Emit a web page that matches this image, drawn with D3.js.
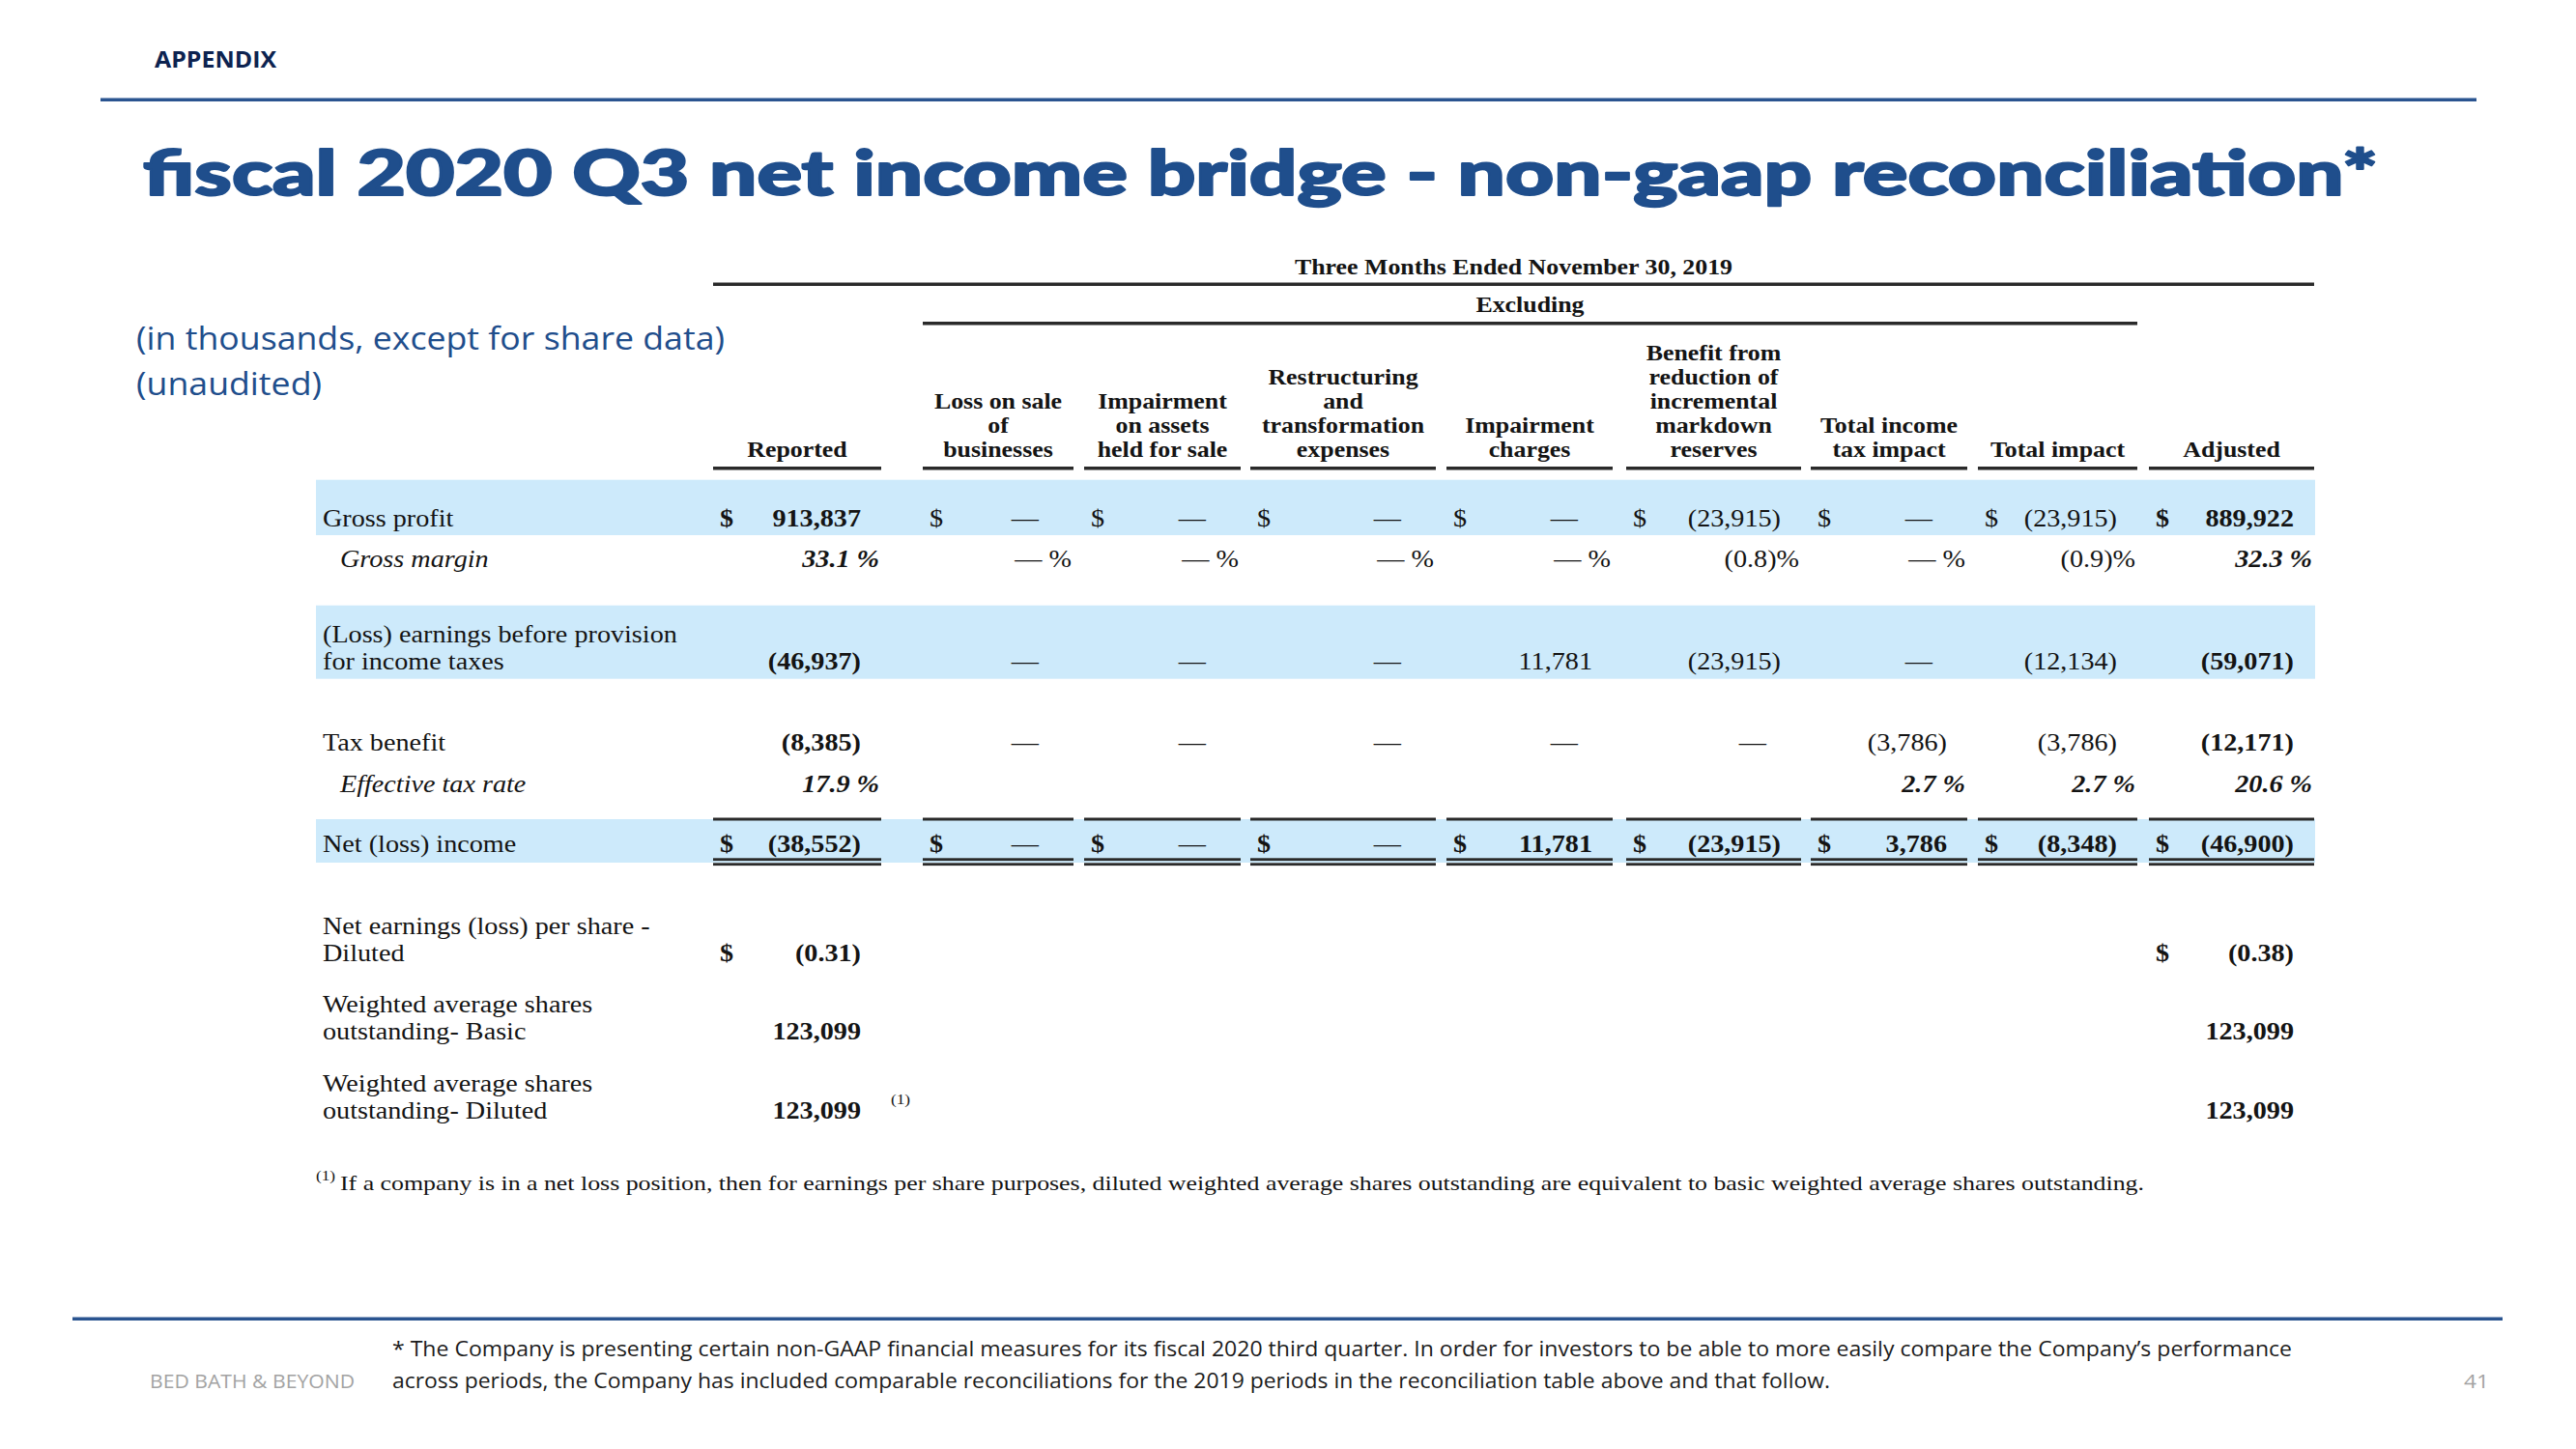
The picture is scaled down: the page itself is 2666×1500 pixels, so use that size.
<!DOCTYPE html>
<html><head><meta charset="utf-8">
<script src="https://cdn.jsdelivr.net/npm/d3@7"></script>
<style>html,body{margin:0;padding:0;background:#fff;}svg{display:block;}</style>
</head><body>
<script>
// ---------- DATA ----------
const columnKeys = ["reported","lossSale","impAssets","restructuring","impCharges","markdown","taxImpact","totalImpact","adjusted"];
const headerLines = [
  ["Reported"],
  ["Loss on sale","of","businesses"],
  ["Impairment","on assets","held for sale"],
  ["Restructuring","and","transformation","expenses"],
  ["Impairment","charges"],
  ["Benefit from","reduction of","incremental","markdown","reserves"],
  ["Total income","tax impact"],
  ["Total impact"],
  ["Adjusted"]
];
const periodTitle = "Three Months Ended November 30, 2019";
const excludingTitle = "Excluding";

const rowKeys = ["grossProfit","grossMargin","pretax","taxBenefit","effTaxRate","netIncome","eps","sharesBasic","sharesDiluted"];
const rowLabels = [
  ["Gross profit"],
  ["Gross margin"],
  ["(Loss) earnings before provision","for income taxes"],
  ["Tax benefit"],
  ["Effective tax rate"],
  ["Net (loss) income"],
  ["Net earnings (loss) per share -","Diluted"],
  ["Weighted average shares","outstanding- Basic"],
  ["Weighted average shares","outstanding- Diluted"]
];
const grossProfit   = ["913,837","—","—","—","—","(23,915)","—","(23,915)","889,922"];
const grossMargin   = ["33.1 %","— %","— %","— %","— %","(0.8)%","— %","(0.9)%","32.3 %"];
const pretaxIncome  = ["(46,937)","—","—","—","11,781","(23,915)","—","(12,134)","(59,071)"];
const taxBenefit    = ["(8,385)","—","—","—","—","—","(3,786)","(3,786)","(12,171)"];
const effTaxRate    = ["17.9 %","","","","","","2.7 %","2.7 %","20.6 %"];
const netIncome     = ["(38,552)","—","—","—","11,781","(23,915)","3,786","(8,348)","(46,900)"];
const epsDiluted    = ["(0.31)","","","","","","","","(0.38)"];
const sharesBasic   = ["123,099","","","","","","","","123,099"];
const sharesDiluted = ["123,099","","","","","","","","123,099"];
const rowValues = [grossProfit,grossMargin,pretaxIncome,taxBenefit,effTaxRate,netIncome,epsDiluted,sharesBasic,sharesDiluted];

const footnoteMark = "(1)";
const footnoteText = "If a company is in a net loss position, then for earnings per share purposes, diluted weighted average shares outstanding are equivalent to basic weighted average shares outstanding.";
const slideTitle = "fiscal 2020 Q3 net income bridge - non-gaap reconciliation*";
const sectionLabel = "APPENDIX";
const subtitleLines = ["(in thousands, except for share data)","(unaudited)"];
const noteLines = [
  "* The Company is presenting certain non-GAAP financial measures for its fiscal 2020 third quarter. In order for investors to be able to more easily compare the Company\u2019s performance",
  "across periods, the Company has included comparable reconciliations for the 2019 periods in the reconciliation table above and that follow."
];
const brand = "BED BATH & BEYOND";
const pageNumber = "41";

// ---------- LAYOUT ----------
const W = 2666, H = 1500;
const BLUE = "#1f4e8c", INK = "#141414", BAND = "#cdeafb", RULE = "#2a2a2a";
const SERIF = "'Liberation Serif','Times New Roman',serif";
const SX = 1.15;

const colLeft  = d3.scaleOrdinal().domain(columnKeys).range([738,955,1122,1294,1497,1683,1874,2047,2224]);
const colRight = d3.scaleOrdinal().domain(columnKeys).range([912,1111,1284,1486,1669,1864,2036,2212,2395]);
const rowBase  = d3.scaleOrdinal().domain(rowKeys).range([545,587,665,777,820,882,967,1048,1130]);
const LINE = 27.5;

const svg = d3.select("body").append("svg").attr("width",W).attr("height",H);

function txt(g, x, y, s, o = {}) {
  const t = g.append("text")
    .attr("transform", `translate(${x},${y}) scale(${o.sx ?? SX},1)`)
    .attr("text-anchor", o.anchor || "start")
    .style("font-family", o.family || SERIF)
    .style("font-size", (o.size || 24.5) + "px")
    .style("font-weight", o.weight || "normal")
    .style("font-style", o.italic ? "italic" : "normal")
    .style("fill", o.fill || INK)
    .text(s);
  if (o.len) t.attr("textLength", o.len).attr("lengthAdjust", "spacingAndGlyphs");
  if (o.stroke) t.style("stroke", o.fill || INK).style("stroke-width", o.stroke).style("stroke-linejoin","round");
  return t;
}

// ---------- SLIDE CHROME ----------
txt(svg, 160, 70, sectionLabel, {family:"'Open Sans',sans-serif", size:24, weight:700, fill:"#0d2350", sx:1, len:126});
svg.append("rect").attr("x",104).attr("y",101.5).attr("width",2459).attr("height",3.5).attr("fill","#2a5490");
txt(svg, 148, 202, slideTitle, {family:"Lato,'Open Sans',sans-serif", size:64, weight:900, fill:BLUE, sx:1, len:2313, stroke:2});
txt(svg, 141, 362, subtitleLines[0], {family:"'Open Sans',sans-serif", size:32, fill:BLUE, sx:1, len:609});
txt(svg, 141, 409, subtitleLines[1], {family:"'Open Sans',sans-serif", size:32, fill:BLUE, sx:1, len:192});

svg.append("rect").attr("x",75).attr("y",1363.5).attr("width",2515).attr("height",3.5).attr("fill","#2a5490");
txt(svg, 406, 1404, noteLines[0], {family:"'Open Sans',sans-serif", size:21, fill:"#1c1c1c", sx:1, len:1966});
txt(svg, 406, 1437, noteLines[1], {family:"'Open Sans',sans-serif", size:21, fill:"#1c1c1c", sx:1, len:1488});
txt(svg, 155, 1437, brand, {family:"'Open Sans',sans-serif", size:20, fill:"#a3a3a3", sx:1, len:212});
txt(svg, 2550, 1437, pageNumber, {family:"'Open Sans',sans-serif", size:20, fill:"#a3a3a3", sx:1, len:26});

// ---------- TABLE ----------
const tbl = svg.append("g");
const first = columnKeys[0], last = columnKeys[columnKeys.length-1];
const bandX0 = 327, bandX1 = colRight(last) + 1;

// blue bands
const bands = [[496.7,554],[626.7,702.7],[848,893]];
tbl.selectAll("rect.band").data(bands).join("rect").attr("class","band")
  .attr("x",bandX0).attr("width",bandX1-bandX0)
  .attr("y",d=>d[0]).attr("height",d=>d[1]-d[0]).attr("fill",BAND);

// spanning headers
txt(tbl, (colLeft(first)+colRight(last))/2, 284, periodTitle, {anchor:"middle", size:22.5, weight:700});
tbl.append("rect").attr("x",colLeft(first)).attr("width",colRight(last)-colLeft(first)).attr("y",292.5).attr("height",3.5).attr("fill",RULE);
const exFirst = columnKeys[1], exLast = columnKeys[7];
txt(tbl, (colLeft(exFirst)+colRight(exLast))/2, 323, excludingTitle, {anchor:"middle", size:22.5, weight:700});
tbl.append("rect").attr("x",colLeft(exFirst)).attr("width",colRight(exLast)-colLeft(exFirst)).attr("y",333).attr("height",3.5).attr("fill",RULE);

// column headers
const HEAD_BASE = 473, HEAD_LINE = 25;
columnKeys.forEach((k,i) => {
  const cx = (colLeft(k)+colRight(k))/2;
  const lines = headerLines[i];
  lines.forEach((ln,j) => {
    txt(tbl, cx, HEAD_BASE - (lines.length-1-j)*HEAD_LINE, ln, {anchor:"middle", size:22.5, weight:700});
  });
  tbl.append("rect").attr("x",colLeft(k)).attr("width",colRight(k)-colLeft(k)).attr("y",483).attr("height",3.5).attr("fill",RULE);
});

// net income row rules
columnKeys.forEach(k => {
  const x = colLeft(k), w = colRight(k)-colLeft(k);
  tbl.append("rect").attr("x",x).attr("width",w).attr("y",846.5).attr("height",3).attr("fill",RULE);
  tbl.append("rect").attr("x",x).attr("width",w).attr("y",888.3).attr("height",2.8).attr("fill",RULE);
  tbl.append("rect").attr("x",x).attr("width",w).attr("y",893.3).attr("height",2.8).attr("fill",RULE);
});

// row labels
const italicRows = new Set(["grossMargin","effTaxRate"]);
rowKeys.forEach((rk,i) => {
  const lines = rowLabels[i];
  const x = italicRows.has(rk) ? 352 : 334;
  lines.forEach((ln,j) => txt(tbl, x, rowBase(rk) + j*LINE, ln, {italic: italicRows.has(rk)}));
});

// values
const dollarRows = new Set(["grossProfit","netIncome","eps"]);
const pctRows = new Set(["grossMargin","effTaxRate"]);
const boldCols = new Set(["reported","adjusted"]);
rowKeys.forEach((rk,i) => {
  const vals = rowValues[i];
  const y = rowBase(rk) + (rowLabels[i].length-1)*LINE;
  columnKeys.forEach((ck,j) => {
    const v = vals[j];
    if (!v) return;
    const bold = boldCols.has(ck) || rk === "netIncome" || rk === "effTaxRate" || rk === "eps" || rk.startsWith("shares");
    const italic = pctRows.has(rk) && (boldCols.has(ck) || rk === "effTaxRate");
    const isDash = v === "—";
    let x;
    if (pctRows.has(rk)) x = colRight(ck) - 2;
    else if (isDash) x = colRight(ck) - 36;
    else x = colRight(ck) - 21;
    txt(tbl, x, y, v, {anchor:"end", weight: bold && !isDash ? 700 : "normal", italic});
    if (dollarRows.has(rk)) {
      const dBold = boldCols.has(ck) || rk === "netIncome" || rk === "eps";
      txt(tbl, colLeft(ck) + 7, y, "$", {weight: dBold ? 700 : "normal"});
    }
  });
});

// superscript after diluted shares
txt(tbl, 922, rowBase("sharesDiluted") + LINE - 15, footnoteMark, {size:15});

// footnote
txt(tbl, 327, 1222, footnoteMark, {size:15});
txt(tbl, 352, 1232, footnoteText, {size:22, sx:1, len:1867});
</script>
</body></html>
